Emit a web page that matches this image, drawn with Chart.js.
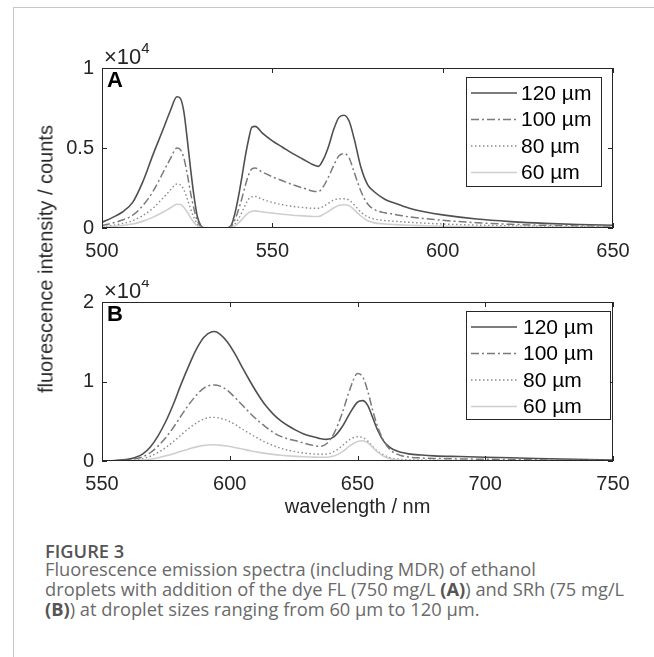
<!DOCTYPE html>
<html>
<head>
<meta charset="utf-8">
<script src="https://cdn.jsdelivr.net/npm/chart.js@4.4.1/dist/chart.umd.min.js"></script>
<style>
  body { margin: 0; background: #fff; width: 654px; height: 657px; overflow: hidden; position: relative; font-family: "Liberation Sans", Arial, Helvetica, sans-serif; }
  .card { position: absolute; left: 13px; top: 7px; right: -5px; bottom: -5px; border-top: 1px solid #c8c8c8; border-left: 1px solid #c8c8c8; }
  canvas { position: absolute; left: 0; }
  #chartA { top: 40px; }
  #chartB { top: 280px; }
  #ylabel { position: absolute; left: 46px; top: 259px; transform: translate(-50%, -50%) rotate(-90deg); white-space: nowrap; font-size: 20px; color: #262626; }
  #fig { position: absolute; left: 45px; top: 541px; font-family: "Open Sans", sans-serif; font-weight: 600; font-size: 18.3px; line-height: 20px; color: #555; }
  #cap { position: absolute; left: 45px; top: 559px; font-family: "Open Sans", sans-serif; font-size: 18.3px; line-height: 20px; color: #6a6a6a; white-space: nowrap; }
  #cap b { font-weight: 700; color: #555; }
</style>
</head>
<body>
<div class="card"></div>
<canvas id="chartA" width="654" height="225"></canvas>
<canvas id="chartB" width="654" height="240"></canvas>
<div id="ylabel">fluorescence intensity / counts</div>
<div id="fig">FIGURE 3</div>
<div id="cap">Fluorescence emission spectra (including MDR) of ethanol<br>droplets with addition of the dye FL (750 mg/L <b>(A)</b>) and SRh (75 mg/L<br><b>(B)</b>) at droplet sizes ranging from 60 µm to 120 µm.</div>

<script>
// series labels (droplet sizes)
const sizes = ['120 µm', '100 µm', '80 µm', '60 µm'];

// panel A: dye FL, wavelength in nm
const waveA = [500, 503, 506, 509, 512, 515, 518, 520, 522, 523, 524, 525, 526, 527, 528, 529, 530, 535, 537, 538, 539, 540, 541, 542, 543, 544, 545, 547, 550, 553, 556, 559, 562, 563.5, 565, 566.5, 568, 569.5, 571, 572.5, 574, 576, 578, 580, 583, 586, 590, 595, 600, 610, 620, 630, 640, 650];
const a120 = [350, 650, 1000, 1600, 2900, 4600, 6200, 7300, 8200, 8100, 7300, 5600, 3700, 2000, 700, 150, 20, 0, 20, 200, 900, 1900, 3100, 4400, 5500, 6300, 6350, 5950, 5450, 5050, 4650, 4300, 3950, 3850, 4300, 5100, 6150, 6900, 7050, 6700, 5600, 3800, 2700, 2250, 1800, 1550, 1250, 1000, 820, 560, 400, 290, 220, 170];
const a100 = [150, 300, 500, 800, 1400, 2300, 3500, 4300, 5000, 4900, 4400, 3400, 2200, 1200, 450, 100, 10, 0, 10, 120, 500, 1100, 1800, 2600, 3300, 3700, 3750, 3500, 3200, 2950, 2700, 2500, 2300, 2280, 2600, 3200, 3900, 4500, 4650, 4400, 3500, 2300, 1500, 1150, 950, 850, 700, 580, 480, 330, 230, 170, 130, 100];
const a80 = [80, 160, 280, 450, 780, 1250, 1900, 2350, 2750, 2700, 2400, 1850, 1200, 650, 250, 60, 5, 0, 5, 60, 250, 550, 950, 1400, 1800, 1950, 1970, 1800, 1600, 1450, 1350, 1280, 1230, 1230, 1350, 1550, 1750, 1820, 1830, 1750, 1450, 1000, 700, 560, 470, 420, 360, 300, 250, 180, 130, 100, 80, 60];
const a60 = [50, 100, 160, 250, 430, 680, 1000, 1250, 1480, 1470, 1300, 1000, 650, 350, 130, 30, 0, 0, 0, 30, 130, 300, 520, 760, 950, 1050, 1070, 1000, 930, 860, 800, 760, 720, 720, 850, 1050, 1250, 1400, 1450, 1400, 1150, 750, 450, 320, 250, 210, 170, 140, 110, 80, 60, 45, 35, 25];

// panel B: dye SRh
const waveB = [550, 555, 560, 563, 566, 569, 572, 575, 578, 581, 584, 587, 590, 593, 594, 596, 599, 602, 605, 608, 611, 614, 617, 620, 623, 626, 629, 632, 635, 638, 641, 644, 647, 650, 652, 654, 656, 658, 660, 662, 664, 667, 670, 675, 680, 690, 700, 710, 720, 735, 750];
const b120 = [20, 60, 200, 450, 900, 1800, 3200, 5000, 7200, 9700, 12000, 14100, 15600, 16250, 16280, 16000, 15000, 13500, 11700, 10000, 8400, 7000, 5900, 5050, 4400, 3850, 3400, 3100, 2850, 2720, 3100, 4300, 6000, 7400, 7600, 7000, 5400, 3800, 2600, 1900, 1450, 1100, 900, 750, 650, 560, 480, 400, 320, 220, 130];
const b100 = [10, 35, 120, 270, 540, 1070, 1900, 2950, 4250, 5700, 7100, 8300, 9200, 9550, 9560, 9450, 8900, 8000, 7000, 6000, 5100, 4300, 3600, 3100, 2750, 2550, 2250, 2000, 1850, 2200, 3600, 6000, 9000, 11000, 10600, 8800, 6300, 4200, 2700, 1700, 1100, 700, 500, 380, 320, 260, 220, 180, 150, 110, 80];
const b80 = [5, 20, 70, 150, 300, 600, 1080, 1700, 2450, 3300, 4100, 4800, 5300, 5490, 5490, 5400, 5100, 4600, 4000, 3400, 2850, 2350, 1950, 1600, 1350, 1150, 1000, 900, 850, 880, 1200, 1900, 2700, 3050, 2950, 2500, 1800, 1200, 800, 500, 330, 200, 150, 110, 90, 70, 60, 50, 40, 30, 20];
const b60 = [2, 10, 30, 60, 120, 230, 420, 650, 920, 1220, 1520, 1780, 1970, 2050, 2040, 2000, 1880, 1700, 1500, 1300, 1120, 960, 830, 720, 640, 580, 530, 500, 470, 480, 650, 1150, 1900, 2450, 2550, 2300, 1700, 1100, 650, 350, 200, 100, 60, 40, 30, 20, 15, 12, 10, 8, 5];

const styles = [
    { borderColor: '#505050', borderWidth: 1.6, borderDash: [] },
    { borderColor: '#7a7a7a', borderWidth: 1.5, borderDash: [8, 3, 2, 3] },
    { borderColor: '#8a8a8a', borderWidth: 1.4, borderDash: [1.5, 2.5] },
    { borderColor: '#cfcfcf', borderWidth: 1.6, borderDash: [] }
];

const axisColor = '#262626';
const fontFamily = '"Liberation Sans", Arial, Helvetica, sans-serif';
const tickFont = { family: fontFamily, size: 20 };

function makeDatasets(wave, series) {
    return series.map((vals, i) => ({
        label: sizes[i],
        data: wave.map((w, j) => ({ x: w, y: vals[j] })),
        borderColor: styles[i].borderColor,
        borderWidth: styles[i].borderWidth,
        borderDash: styles[i].borderDash,
        pointRadius: 0,
        fill: false,
        cubicInterpolationMode: 'monotone'
    })).reverse(); // draw darker lines on top
}

// frame, inward ticks, panel letter, exponent and legend
const decorPlugin = {
    id: 'decor',
    afterDraw(chart, args, opts) {
        const ctx = chart.ctx;
        const a = chart.chartArea;
        const xs = chart.scales.x, ys = chart.scales.y;
        ctx.save();
        ctx.strokeStyle = axisColor;
        ctx.lineWidth = 1;
        ctx.strokeRect(a.left + 0.5, a.top + 0.5, a.right - a.left - 1, a.bottom - a.top - 1);
        const tl = 5;
        ctx.beginPath();
        xs.ticks.forEach(t => {
            const px = Math.round(xs.getPixelForValue(t.value)) + 0.5;
            ctx.moveTo(px, a.bottom); ctx.lineTo(px, a.bottom - tl);
            ctx.moveTo(px, a.top); ctx.lineTo(px, a.top + tl);
        });
        ys.ticks.forEach(t => {
            const py = Math.round(ys.getPixelForValue(t.value)) + 0.5;
            ctx.moveTo(a.left, py); ctx.lineTo(a.left + tl, py);
            ctx.moveTo(a.right, py); ctx.lineTo(a.right - tl, py);
        });
        ctx.stroke();

        // panel letter
        ctx.fillStyle = '#000';
        ctx.font = 'bold 22px ' + fontFamily;
        ctx.textBaseline = 'top';
        ctx.textAlign = 'left';
        ctx.fillText(opts.letter, a.left + 5, a.top + 2);

        // exponent label
        ctx.fillStyle = axisColor;
        ctx.textBaseline = 'alphabetic';
        ctx.font = '22px ' + fontFamily;
        const base = '\u00d710';
        ctx.fillText(base, a.left + 2, a.top - 4);
        const w = ctx.measureText(base).width;
        ctx.font = '15px ' + fontFamily;
        ctx.fillText('4', a.left + 2 + w, a.top - 15);

        // legend
        const L = opts.legend;
        const bx = a.right - L.right - L.width, by = a.top + L.top;
        ctx.fillStyle = '#fff';
        ctx.fillRect(bx, by, L.width, L.height);
        ctx.strokeStyle = axisColor;
        ctx.lineWidth = 1;
        ctx.strokeRect(bx + 0.5, by + 0.5, L.width, L.height);
        const ds = chart.data.datasets.slice().reverse();
        ds.forEach((d, i) => {
            const y = by + 16 + i * 26.5;
            ctx.beginPath();
            ctx.strokeStyle = d.borderColor;
            ctx.lineWidth = d.borderWidth;
            ctx.setLineDash(d.borderDash);
            ctx.moveTo(bx + 5, y); ctx.lineTo(bx + 51, y);
            ctx.stroke();
            ctx.setLineDash([]);
            ctx.fillStyle = '#000';
            ctx.font = '21px ' + fontFamily;
            ctx.textBaseline = 'middle';
            ctx.fillText(d.label, bx + L.textX, y + 1);
        });
        ctx.restore();
    }
};

function makeChart(id, wave, series, xmin, xmax, ymax, pad, xHeight, letter, legend, xTitle) {
    return new Chart(document.getElementById(id), {
        type: 'line',
        data: { datasets: makeDatasets(wave, series) },
        options: {
            responsive: false,
            animation: false,
            layout: { padding: pad },
            scales: {
                x: {
                    type: 'linear', min: xmin, max: xmax,
                    ticks: { stepSize: 50, font: tickFont, color: axisColor, padding: 11, maxRotation: 0 },
                    grid: { display: false, drawTicks: false },
                    border: { display: false },
                    title: { display: !!xTitle, text: xTitle || '', font: tickFont, color: axisColor, padding: { top: 0, bottom: 1 } },
                    afterFit: s => { s.height = xHeight; }
                },
                y: {
                    min: 0, max: ymax,
                    ticks: { stepSize: ymax / 2, font: tickFont, color: axisColor, padding: 8, callback: v => v / 1e4 },
                    grid: { display: false, drawTicks: false },
                    border: { display: false },
                    afterFit: s => { s.width = 102; }
                }
            },
            plugins: {
                legend: { display: false },
                tooltip: { enabled: false },
                decor: { letter: letter, legend: legend }
            }
        },
        plugins: [decorPlugin]
    });
}

makeChart('chartA', waveA, [a120, a100, a80, a60], 500, 650, 10000,
    { left: 0, right: 41, top: 28, bottom: 0 }, 37, 'A',
    { right: 12, top: 9, width: 135, height: 109, textX: 55 });

makeChart('chartB', waveB, [b120, b100, b80, b60], 550, 750, 20000,
    { left: 0, right: 41, top: 22, bottom: 0 }, 59, 'B',
    { right: 3, top: 9, width: 144, height: 108, textX: 57 }, 'wavelength / nm');
</script>
</body>
</html>
